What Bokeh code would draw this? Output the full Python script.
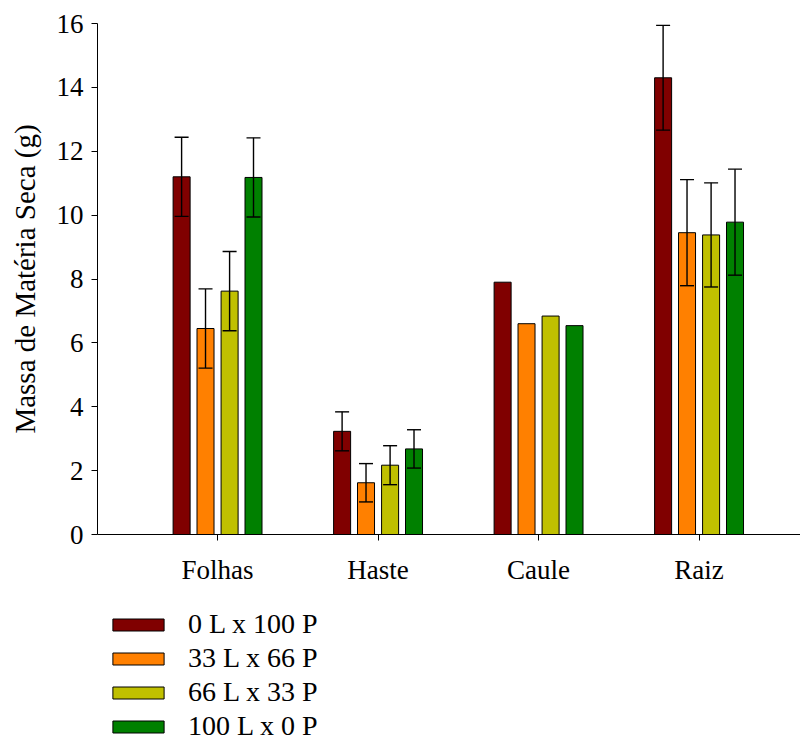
from bokeh.plotting import figure
from bokeh.layouts import column
from bokeh.models import (Range1d, FixedTicker, ColumnDataSource, Whisker, TeeHead,
                          Legend, LegendItem)
from bokeh.embed import file_html
from bokeh.resources import INLINE

categories = ["Folhas", "Haste", "Caule", "Raiz"]
series_names = ["0 L x 100 P", "33 L x 66 P", "66 L x 33 P", "100 L x 0 P"]
colors = ["#800000", "#FF8000", "#C0C000", "#008000"]

means_0L100P = [11.20, 3.23, 7.90, 14.30]
means_33L66P = [6.45, 1.62, 6.60, 9.45]
means_66L33P = [7.62, 2.17, 6.84, 9.38]
means_100L0P = [11.18, 2.68, 6.54, 9.78]

err_0L100P = [1.24, 0.61, None, 1.64]
err_33L66P = [1.24, 0.60, None, 1.66]
err_66L33P = [1.24, 0.61, None, 1.63]
err_100L0P = [1.24, 0.60, None, 1.66]

all_means = [means_0L100P, means_33L66P, means_66L33P, means_100L0P]
all_errs = [err_0L100P, err_33L66P, err_66L33P, err_100L0P]

offsets = [-0.224, -0.075, 0.075, 0.224]
bar_width = 0.106
FONT = "Liberation Serif"
FS = "27px"

p = figure(width=800, height=600, frame_width=703, frame_height=511,
           output_backend="svg", toolbar_location=None,
           x_range=Range1d(0.252, 4.632), y_range=Range1d(0, 16),
           min_border_left=97, min_border_right=0, min_border_top=23,
           min_border_bottom=66)
p.outline_line_color = None
p.xgrid.visible = False
p.ygrid.visible = False
p.background_fill_color = "white"
p.border_fill_color = "white"

for i in range(4):
    xs = [k + 1 + offsets[i] for k in range(len(categories))]
    src = ColumnDataSource(dict(x=xs, top=all_means[i]))
    p.vbar(x="x", top="top", bottom=0, width=bar_width, source=src,
           fill_color=colors[i], line_color="black", line_width=1)
    ex, lo, hi = [], [], []
    for k, e in enumerate(all_errs[i]):
        if e is not None:
            ex.append(xs[k])
            lo.append(all_means[i][k] - e)
            hi.append(all_means[i][k] + e)
    esrc = ColumnDataSource(dict(x=ex, lower=lo, upper=hi))
    w = Whisker(base="x", lower="lower", upper="upper", source=esrc, level="overlay",
                line_color="black", line_width=1.4,
                upper_head=TeeHead(size=14, line_color="black", line_width=1.4),
                lower_head=TeeHead(size=14, line_color="black", line_width=1.4))
    p.add_layout(w)

# axes
p.xaxis.ticker = FixedTicker(ticks=[1, 2, 3, 4])
p.xaxis.major_label_overrides = {1: "Folhas", 2: "Haste", 3: "Caule", 4: "Raiz"}
p.yaxis.ticker = FixedTicker(ticks=list(range(0, 17, 2)))
for ax in [p.xaxis[0], p.yaxis[0]]:
    ax.major_label_text_font = FONT
    ax.major_label_text_font_size = FS
    ax.major_label_text_color = "black"
    ax.axis_line_color = "black"
    ax.major_tick_line_color = "black"
    ax.major_tick_out = 6
    ax.major_tick_in = 0
    ax.minor_tick_line_color = None
p.xaxis.major_label_standoff = 14
p.yaxis.major_label_standoff = 8
p.yaxis.axis_label = "Massa de Matéria Seca (g)"
p.yaxis.axis_label_text_font = FONT
p.yaxis.axis_label_text_font_size = "29px"
p.yaxis.axis_label_text_font_style = "normal"
p.yaxis.axis_label_text_color = "black"
p.yaxis.axis_label_standoff = 13

# legend figure
lf = figure(width=800, height=142, output_backend="svg", toolbar_location=None,
            x_range=Range1d(0, 1), y_range=Range1d(0, 1),
            x_axis_type=None, y_axis_type=None,
            min_border_left=0, min_border_right=0, min_border_top=0, min_border_bottom=0)
lf.outline_line_color = None
lf.xgrid.visible = False
lf.ygrid.visible = False
lf.background_fill_color = "white"
lf.border_fill_color = "white"
items = []
for i in range(4):
    r = lf.vbar(x=[-10], top=[-10], bottom=-11, width=0.1,
                fill_color=colors[i], line_color="black", line_width=1)
    items.append(LegendItem(label=series_names[i], renderers=[r]))

legend = Legend(items=items, location=(9, 0), orientation="vertical")
legend.label_text_font = FONT
legend.label_text_font_size = "28px"
legend.label_text_color = "black"
legend.glyph_width = 64
legend.glyph_height = 15
legend.label_height = 20
legend.spacing = 2
legend.label_standoff = 18
legend.padding = 0
legend.margin = 0
legend.border_line_color = None
legend.background_fill_alpha = 0
lf.add_layout(legend, "center")

layout = column(p, lf, spacing=0)
open("out.html", "w").write(file_html(layout, INLINE))
